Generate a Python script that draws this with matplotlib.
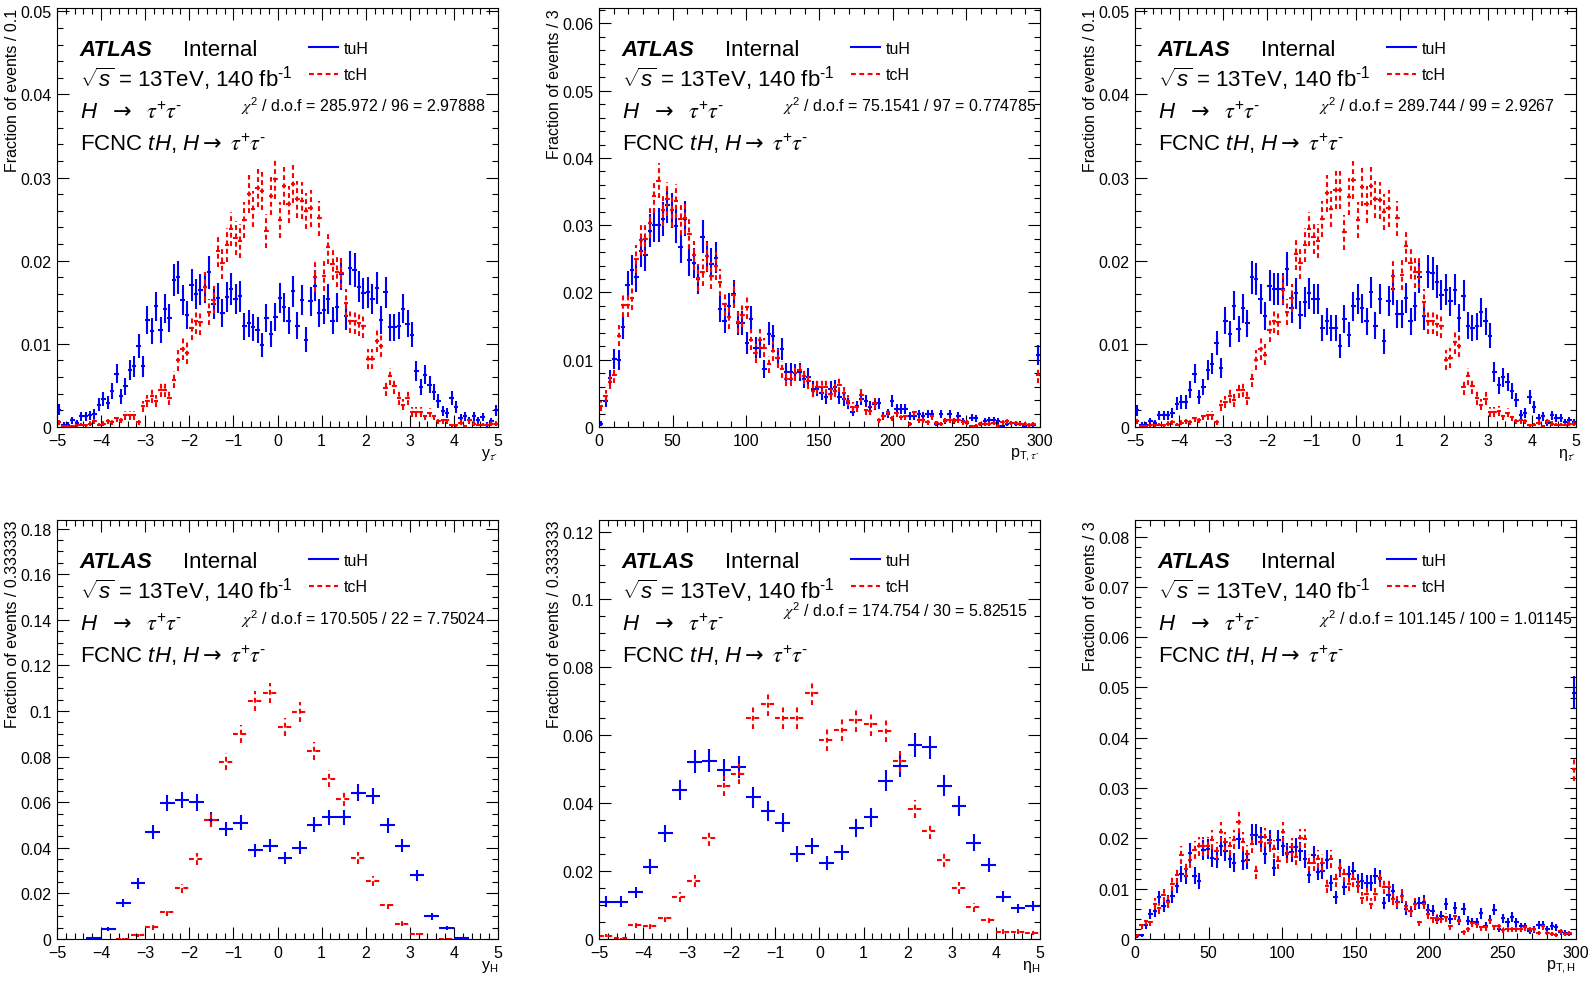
import numpy as np
import matplotlib
matplotlib.use("Agg")
import matplotlib.pyplot as plt
from matplotlib.ticker import MultipleLocator, FuncFormatter

plt.rcParams["font.family"] = ["Liberation Sans", "DejaVu Sans"]
plt.rcParams["mathtext.fontset"] = "custom"
plt.rcParams["mathtext.rm"] = "Liberation Sans"
plt.rcParams["mathtext.it"] = "Liberation Sans:italic"
plt.rcParams["mathtext.bf"] = "Liberation Sans:bold"
plt.rcParams["mathtext.sf"] = "STIXGeneral:italic"   # used for the greek taus
plt.rcParams["mathtext.cal"] = "DejaVu Sans"         # used for arrows / chi
plt.rcParams["lines.scale_dashes"] = False

BLUE = "#0000ff"
RED = "#ff0000"
DASH = (0, (3.5, 2.5))

# effective (unweighted) event counts, used for the statistical error bars
N_TUH = 4700
N_TCH = 5500

# ---- rapidity of tau- (100 bins, -5..5)
ytau_tuh = [0.0021, 0.0003, 0.0003, 0.0008, 0.0005, 0.0013, 0.0013, 0.0014, 0.0016, 0.0027,
            0.0034, 0.0029, 0.0043, 0.0064, 0.0037, 0.0049, 0.0069, 0.0073, 0.0098, 0.0073,
            0.0129, 0.0115, 0.0145, 0.0117, 0.0142, 0.0131, 0.0177, 0.0180, 0.0153, 0.0135,
            0.0171, 0.0160, 0.0165, 0.0168, 0.0186, 0.0148, 0.0155, 0.0137, 0.0156, 0.0166,
            0.0154, 0.0157, 0.0121, 0.0125, 0.0120, 0.0117, 0.0099, 0.0131, 0.0112, 0.0132,
            0.0155, 0.0144, 0.0128, 0.0163, 0.0122, 0.0153, 0.0105, 0.0151, 0.0170, 0.0137,
            0.0141, 0.0154, 0.0128, 0.0144, 0.0184, 0.0134, 0.0191, 0.0189, 0.0169, 0.0161,
            0.0162, 0.0154, 0.0167, 0.0129, 0.0162, 0.0120, 0.0120, 0.0122, 0.0142, 0.0124,
            0.0111, 0.0067, 0.0048, 0.0063, 0.0051, 0.0042, 0.0031, 0.0019, 0.0017, 0.0035,
            0.0024, 0.0011, 0.0013, 0.0008, 0.0013, 0.0008, 0.0012, 0.0003, 0.0007, 0.0020]
ytau_tch = [0.0006, 0.0001, 0.0001, 0.0001, 0.0002, 0.0003, 0.0002, 0.0004, 0.0007, 0.0003,
            0.0004, 0.0007, 0.0006, 0.0011, 0.0009, 0.0014, 0.0014, 0.0014, 0.0006, 0.0025,
            0.0031, 0.0037, 0.0031, 0.0045, 0.0045, 0.0035, 0.0057, 0.0080, 0.0094, 0.0089,
            0.0119, 0.0127, 0.0126, 0.0169, 0.0138, 0.0153, 0.0212, 0.0197, 0.0219, 0.0238,
            0.0227, 0.0224, 0.0249, 0.0280, 0.0262, 0.0287, 0.0284, 0.0236, 0.0278, 0.0298,
            0.0249, 0.0290, 0.0268, 0.0292, 0.0274, 0.0272, 0.0260, 0.0263, 0.0181, 0.0251,
            0.0182, 0.0216, 0.0196, 0.0187, 0.0185, 0.0149, 0.0128, 0.0127, 0.0125, 0.0122,
            0.0082, 0.0082, 0.0104, 0.0098, 0.0047, 0.0061, 0.0049, 0.0035, 0.0027, 0.0035,
            0.0018, 0.0018, 0.0018, 0.0013, 0.0017, 0.0013, 0.0007, 0.0008, 0.0008, 0.0002,
            0.0002, 0.0005, 0.0001, 0.0008, 0.0004, 0.0003, 0.0003, 0.0003, 0.0004, 0.0004]

# ---- pT of tau- (100 bins of 3 GeV, last bin holds overflow)
pttau_tuh = [0.0005, 0.0039, 0.0073, 0.0101, 0.0100, 0.0149, 0.0211, 0.0234, 0.0223, 0.0261,
             0.0255, 0.0292, 0.0300, 0.0300, 0.0309, 0.0330, 0.0322, 0.0299, 0.0267, 0.0310,
             0.0248, 0.0244, 0.0220, 0.0283, 0.0254, 0.0243, 0.0252, 0.0176, 0.0158, 0.0180,
             0.0198, 0.0155, 0.0155, 0.0125, 0.0161, 0.0118, 0.0118, 0.0086, 0.0139, 0.0135,
             0.0102, 0.0116, 0.0082, 0.0082, 0.0081, 0.0082, 0.0071, 0.0075, 0.0057, 0.0057,
             0.0051, 0.0044, 0.0057, 0.0059, 0.0044, 0.0041, 0.0035, 0.0023, 0.0031, 0.0042,
             0.0039, 0.0030, 0.0034, 0.0035, 0.0016, 0.0020, 0.0039, 0.0027, 0.0027, 0.0027,
             0.0016, 0.0016, 0.0019, 0.0016, 0.0019, 0.0019, 0.0005, 0.0019, 0.0009, 0.0019,
             0.0009, 0.0016, 0.0009, 0.0006, 0.0014, 0.0013, 0.0004, 0.0009, 0.0010, 0.0010,
             0.0009, 0.0002, 0.0004, 0.0006, 0.0005, 0.0005, 0.0002, 0.0003, 0.0003, 0.0107]
pttau_tch = [0.0031, 0.0046, 0.0067, 0.0077, 0.0136, 0.0182, 0.0182, 0.0192, 0.0250, 0.0278,
             0.0279, 0.0304, 0.0343, 0.0366, 0.0323, 0.0339, 0.0322, 0.0336, 0.0309, 0.0311,
             0.0287, 0.0255, 0.0222, 0.0230, 0.0254, 0.0225, 0.0239, 0.0215, 0.0183, 0.0163,
             0.0196, 0.0156, 0.0166, 0.0179, 0.0130, 0.0110, 0.0130, 0.0118, 0.0093, 0.0113,
             0.0102, 0.0086, 0.0072, 0.0072, 0.0080, 0.0085, 0.0076, 0.0068, 0.0054, 0.0059,
             0.0059, 0.0059, 0.0049, 0.0054, 0.0063, 0.0050, 0.0039, 0.0030, 0.0029, 0.0047,
             0.0025, 0.0024, 0.0035, 0.0010, 0.0017, 0.0022, 0.0014, 0.0021, 0.0015, 0.0016,
             0.0004, 0.0022, 0.0010, 0.0010, 0.0007, 0.0016, 0.0006, 0.0005, 0.0010, 0.0010,
             0.0010, 0.0010, 0.0007, 0.0007, 0.0001, 0.0002, 0.0004, 0.0005, 0.0004, 0.0006,
             0.0002, 0.0007, 0.0009, 0.0006, 0.0006, 0.0005, 0.0004, 0.0003, 0.0005, 0.0078]

# ---- pseudorapidity of tau- (100 bins, -5..5)
etatau_tuh = [0.0020, 0.0003, 0.0003, 0.0007, 0.0005, 0.0014, 0.0014, 0.0014, 0.0017, 0.0028,
              0.0030, 0.0030, 0.0045, 0.0064, 0.0036, 0.0048, 0.0068, 0.0076, 0.0101, 0.0071,
              0.0128, 0.0112, 0.0146, 0.0118, 0.0143, 0.0125, 0.0180, 0.0178, 0.0154, 0.0134,
              0.0170, 0.0166, 0.0166, 0.0166, 0.0190, 0.0143, 0.0161, 0.0135, 0.0150, 0.0161,
              0.0154, 0.0154, 0.0119, 0.0127, 0.0119, 0.0119, 0.0097, 0.0130, 0.0111, 0.0145,
              0.0154, 0.0143, 0.0127, 0.0162, 0.0122, 0.0154, 0.0103, 0.0152, 0.0166, 0.0136,
              0.0136, 0.0155, 0.0127, 0.0145, 0.0181, 0.0133, 0.0187, 0.0185, 0.0175, 0.0159,
              0.0165, 0.0151, 0.0165, 0.0131, 0.0158, 0.0122, 0.0119, 0.0121, 0.0138, 0.0127,
              0.0110, 0.0066, 0.0050, 0.0060, 0.0054, 0.0043, 0.0033, 0.0015, 0.0017, 0.0036,
              0.0024, 0.0011, 0.0013, 0.0005, 0.0014, 0.0011, 0.0011, 0.0006, 0.0008, 0.0006]
etatau_tch = [0.0007, 0.0001, 0.0001, 0.0002, 0.0002, 0.0003, 0.0002, 0.0004, 0.0006, 0.0003,
              0.0005, 0.0007, 0.0006, 0.0011, 0.0009, 0.0013, 0.0014, 0.0014, 0.0006, 0.0026,
              0.0030, 0.0037, 0.0032, 0.0044, 0.0045, 0.0035, 0.0058, 0.0081, 0.0094, 0.0087,
              0.0117, 0.0128, 0.0126, 0.0165, 0.0138, 0.0155, 0.0208, 0.0197, 0.0219, 0.0238,
              0.0228, 0.0224, 0.0250, 0.0281, 0.0262, 0.0285, 0.0285, 0.0234, 0.0277, 0.0297,
              0.0249, 0.0289, 0.0268, 0.0290, 0.0274, 0.0273, 0.0259, 0.0263, 0.0182, 0.0251,
              0.0183, 0.0218, 0.0197, 0.0186, 0.0186, 0.0150, 0.0127, 0.0127, 0.0124, 0.0122,
              0.0081, 0.0083, 0.0102, 0.0098, 0.0048, 0.0061, 0.0049, 0.0035, 0.0027, 0.0034,
              0.0018, 0.0018, 0.0019, 0.0013, 0.0017, 0.0012, 0.0007, 0.0008, 0.0007, 0.0002,
              0.0003, 0.0005, 0.0001, 0.0007, 0.0004, 0.0003, 0.0003, 0.0003, 0.0004, 0.0004]

# ---- rapidity of H (30 bins, -5..5)
yh_tuh = [0.0, 0.0, 0.0003, 0.0044, 0.0158, 0.0244, 0.0470, 0.0596, 0.0610, 0.0599,
          0.0523, 0.0482, 0.0511, 0.0390, 0.0409, 0.0355, 0.0400, 0.0501, 0.0533, 0.0533,
          0.0642, 0.0628, 0.0499, 0.0409, 0.0280, 0.0099, 0.0048, 0.0004, 0.0, 0.0]
yh_tch = [0.0, 0.0, 0.0, 0.0, 0.0002, 0.0016, 0.0051, 0.0117, 0.0223, 0.0350,
          0.0523, 0.0778, 0.0898, 0.1044, 0.1080, 0.0930, 0.0996, 0.0825, 0.0704, 0.0616,
          0.0355, 0.0255, 0.0150, 0.0066, 0.0022, 0.0, 0.0002, 0.0, 0.0, 0.0]

# ---- pseudorapidity of H (30 bins, -5..5)
etah_tuh = [0.0110, 0.0110, 0.0137, 0.0213, 0.0311, 0.0439, 0.0522, 0.0525, 0.0498, 0.0507,
            0.0417, 0.0377, 0.0343, 0.0250, 0.0273, 0.0224, 0.0255, 0.0326, 0.0358, 0.0466,
            0.0510, 0.0572, 0.0564, 0.0451, 0.0392, 0.0284, 0.0218, 0.0125, 0.0090, 0.0098]
etah_tch = [0.0010, 0.0002, 0.0041, 0.0039, 0.0061, 0.0123, 0.0172, 0.0297, 0.0451, 0.0485,
            0.0652, 0.0693, 0.0652, 0.0652, 0.0724, 0.0585, 0.0616, 0.0645, 0.0632, 0.0613,
            0.0523, 0.0382, 0.0319, 0.0233, 0.0150, 0.0093, 0.0057, 0.0022, 0.0022, 0.0018]

# ---- pT of H (100 bins of 3 GeV, last bin holds overflow)
pth_tuh = [0.0005, 0.0007, 0.0028, 0.0050, 0.0055, 0.0083, 0.0065, 0.0075, 0.0085, 0.0106,
           0.0129, 0.0126, 0.0171, 0.0126, 0.0116, 0.0177, 0.0179, 0.0162, 0.0160, 0.0185,
           0.0175, 0.0159, 0.0152, 0.0199, 0.0156, 0.0157, 0.0207, 0.0207, 0.0202, 0.0169,
           0.0197, 0.0142, 0.0197, 0.0185, 0.0171, 0.0172, 0.0182, 0.0174, 0.0159, 0.0127,
           0.0167, 0.0134, 0.0136, 0.0158, 0.0111, 0.0083, 0.0141, 0.0103, 0.0129, 0.0136,
           0.0114, 0.0116, 0.0111, 0.0111, 0.0125, 0.0121, 0.0072, 0.0087, 0.0096, 0.0073,
           0.0086, 0.0060, 0.0055, 0.0070, 0.0071, 0.0074, 0.0058, 0.0056, 0.0038, 0.0046,
           0.0070, 0.0040, 0.0062, 0.0036, 0.0060, 0.0036, 0.0034, 0.0033, 0.0051, 0.0026,
           0.0038, 0.0058, 0.0020, 0.0041, 0.0033, 0.0044, 0.0033, 0.0025, 0.0025, 0.0015,
           0.0019, 0.0028, 0.0028, 0.0020, 0.0026, 0.0023, 0.0013, 0.0012, 0.0010, 0.0490]
pth_tch = [0.0007, 0.0028, 0.0036, 0.0034, 0.0070, 0.0061, 0.0087, 0.0073, 0.0109, 0.0127,
           0.0167, 0.0139, 0.0158, 0.0177, 0.0184, 0.0184, 0.0185, 0.0197, 0.0175, 0.0213,
           0.0193, 0.0185, 0.0197, 0.0232, 0.0193, 0.0169, 0.0189, 0.0136, 0.0192, 0.0202,
           0.0191, 0.0179, 0.0156, 0.0212, 0.0169, 0.0182, 0.0164, 0.0200, 0.0199, 0.0152,
           0.0152, 0.0159, 0.0152, 0.0106, 0.0159, 0.0119, 0.0142, 0.0129, 0.0109, 0.0119,
           0.0105, 0.0081, 0.0089, 0.0070, 0.0089, 0.0119, 0.0103, 0.0103, 0.0079, 0.0073,
           0.0086, 0.0065, 0.0056, 0.0070, 0.0034, 0.0070, 0.0050, 0.0041, 0.0041, 0.0040,
           0.0043, 0.0025, 0.0046, 0.0038, 0.0013, 0.0020, 0.0032, 0.0030, 0.0023, 0.0023,
           0.0038, 0.0025, 0.0026, 0.0017, 0.0020, 0.0019, 0.0020, 0.0020, 0.0023, 0.0019,
           0.0020, 0.0012, 0.0025, 0.0012, 0.0010, 0.0008, 0.0015, 0.0010, 0.0012, 0.0338]

eta_edges_fine = np.linspace(-5, 5, 101)
eta_edges_coarse = np.linspace(-5, 5, 31)
pt_edges = np.linspace(0, 300, 101)

TAU = r"\mathsf{\tau}"
TAUMINUS = TAU + r"^{\text{-}}"
TAUS = TAU + r"^{+}" + TAUMINUS
ARROW = r"\mathcal{\rightarrow}"

panels = [
    dict(pos=(57, 9), edges=eta_edges_fine, tuh=ytau_tuh, tch=ytau_tch,
         xlabel=r"y$_{" + TAUMINUS + "}$", ylabel="Fraction of events / 0.1",
         ymax=0.0504, ymaj=0.01, ymin=0.002, xmaj=1, xmin=0.2,
         chi2="285.972 / 96 = 2.97888", chi_y=0.755),
    dict(pos=(599, 9), edges=pt_edges, tuh=pttau_tuh, tch=pttau_tch,
         xlabel=r"p$_{\mathregular{T,}" + TAUMINUS + "}$", ylabel="Fraction of events / 3",
         ymax=0.0623, ymaj=0.01, ymin=0.002, xmaj=50, xmin=10,
         chi2="75.1541 / 97 = 0.774785", chi_y=0.755),
    dict(pos=(1135, 9), edges=eta_edges_fine, tuh=etatau_tuh, tch=etatau_tch,
         xlabel=r"$\mathregular{\eta}_{" + TAUMINUS + "}$", ylabel="Fraction of events / 0.1",
         ymax=0.0504, ymaj=0.01, ymin=0.002, xmaj=1, xmin=0.2,
         chi2="289.744 / 99 = 2.9267", chi_y=0.755),
    dict(pos=(57, 521), edges=eta_edges_coarse, tuh=yh_tuh, tch=yh_tch,
         xlabel=r"y$_{\mathregular{H}}$", ylabel="Fraction of events / 0.333333",
         ymax=0.1838, ymaj=0.02, ymin=0.005, xmaj=1, xmin=0.2,
         chi2="170.505 / 22 = 7.75024", chi_y=0.751),
    dict(pos=(599, 521), edges=eta_edges_coarse, tuh=etah_tuh, tch=etah_tch,
         xlabel=r"$\mathregular{\eta}_{\mathregular{H}}$", ylabel="Fraction of events / 0.333333",
         ymax=0.1234, ymaj=0.02, ymin=0.005, xmaj=1, xmin=0.2,
         chi2="174.754 / 30 = 5.82515", chi_y=0.771),
    dict(pos=(1135, 521), edges=pt_edges, tuh=pth_tuh, tch=pth_tch,
         xlabel=r"p$_{\mathregular{T,H}}$", ylabel="Fraction of events / 3",
         ymax=0.0833, ymaj=0.01, ymin=0.002, xmaj=50, xmin=10,
         chi2="101.145 / 100 = 1.01145", chi_y=0.752),
]


def draw_hist(ax, edges, values, n_eff, color, dashed):
    vals = np.asarray(values, dtype=float)
    centers = 0.5 * (edges[:-1] + edges[1:])
    half = 0.5 * np.diff(edges)
    keep = vals > 0
    err = np.sqrt(vals / n_eff)
    eb = ax.errorbar(centers[keep], vals[keep], xerr=half[keep], yerr=err[keep],
                     fmt="none", ecolor=color, elinewidth=1.5, capsize=0)
    if dashed:
        for lc in eb[2]:
            lc.set_linestyle(DASH)


W, H = 1594, 987
fig = plt.figure(figsize=(W / 100, H / 100), dpi=100)
AX_W, AX_H = 441, 419

for p in panels:
    left, top = p["pos"]
    ax = fig.add_axes([left / W, 1 - (top + AX_H) / H, AX_W / W, AX_H / H])
    edges = p["edges"]
    draw_hist(ax, edges, p["tuh"], N_TUH, BLUE, False)
    draw_hist(ax, edges, p["tch"], N_TCH, RED, True)

    ax.set_xlim(edges[0], edges[-1])
    ax.set_ylim(0, p["ymax"])
    ax.xaxis.set_major_locator(MultipleLocator(p["xmaj"]))
    ax.xaxis.set_minor_locator(MultipleLocator(p["xmin"]))
    ax.yaxis.set_major_locator(MultipleLocator(p["ymaj"]))
    ax.yaxis.set_minor_locator(MultipleLocator(p["ymin"]))
    ax.yaxis.set_major_formatter(FuncFormatter(lambda v, pos: "%g" % round(v, 6)))
    ax.tick_params(which="both", direction="in", top=True, right=True,
                   width=0.8, labelsize=11.5, pad=4)
    ax.tick_params(which="major", length=8.6)
    ax.tick_params(which="minor", length=4.3)
    for s in ax.spines.values():
        s.set_linewidth(0.8)

    tr = ax.transAxes
    ax.text(0.052, 0.889, "ATLAS", transform=tr, fontsize=16,
            fontweight="bold", fontstyle="italic")
    ax.text(0.285, 0.889, "Internal", transform=tr, fontsize=16)
    ax.text(0.052, 0.814, r"$\sqrt{s}$ = 13TeV, 140 fb$^{\text{-1}}$",
            transform=tr, fontsize=16)
    ax.text(0.052, 0.738, r"$H\ \ " + ARROW + r"\ \ " + TAUS + "$",
            transform=tr, fontsize=16)
    ax.text(0.052, 0.660, r"FCNC $tH$, $H" + ARROW + r"\ " + TAUS + "$",
            transform=tr, fontsize=16)
    ax.text(0.417, p["chi_y"], r"$\mathsf{\chi}^{2}$ / d.o.f = " + p["chi2"],
            transform=tr, fontsize=11.5)

    # legend
    ax.plot([0.571, 0.637], [0.907, 0.907], transform=tr, color=BLUE, lw=1.5)
    ax.plot([0.571, 0.637], [0.843, 0.843], transform=tr, color=RED, lw=1.5, ls=DASH)
    ax.text(0.650, 0.893, "tuH", transform=tr, fontsize=11.5)
    ax.text(0.650, 0.831, "tcH", transform=tr, fontsize=11.5)

    # axis titles
    ax.text(-0.1, 1.0, p["ylabel"], transform=tr, rotation=90,
            ha="center", va="top", fontsize=11.5)
    ax.text(1.0, -0.045, p["xlabel"], transform=tr, ha="right", va="top",
            fontsize=11.5)

fig.savefig("out.png", dpi=100)
